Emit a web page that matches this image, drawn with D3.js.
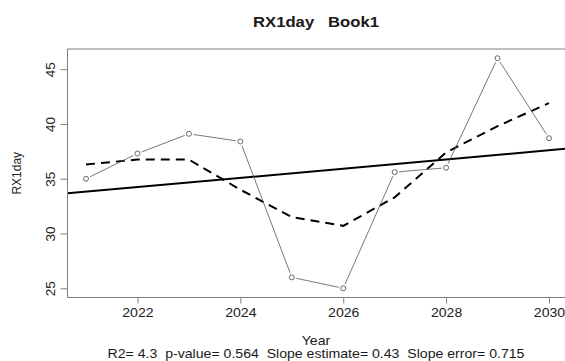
<!DOCTYPE html>
<html>
<head>
<meta charset="utf-8">
<script src="https://cdn.jsdelivr.net/npm/d3@7"></script>
<style>
  html, body { margin: 0; padding: 0; background: #fff; }
  svg { display: block; font-family: "Liberation Sans", Arial, sans-serif; }
  text { white-space: pre; }
</style>
</head>
<body>
<svg id="chart" width="565" height="361"></svg>
<script>
// Annual maximum 1-day precipitation series
const years = [2021, 2022, 2023, 2024, 2025, 2026, 2027, 2028, 2029, 2030];
const rx1day = [35.0, 37.3, 39.1, 38.4, 26.0, 25.0, 35.6, 36.0, 46.0, 38.7];
// Smoothed curve evaluated at each year
const smooth = [36.3, 36.75, 36.75, 34.0, 31.5, 30.7, 33.3, 37.4, 39.8, 41.9];
const xTicks = [2022, 2024, 2026, 2028, 2030];
const yTicks = [25, 30, 35, 40, 45];
const titleText = "RX1day   Book1";
const xLabel = "Year";
const yLabel = "RX1day";
const statsText = "R2= 4.3  p-value= 0.564  Slope estimate= 0.43  Slope error= 0.715";

const svg = d3.select("#chart");
const plot = { left: 67.5, right: 567.5, top: 49, bottom: 297.5 };
const textWiden = 1.12;   // horizontal widening of horizontal labels

// R-style 4% padding around the data range
function padded(ext) {
  const p = (ext[1] - ext[0]) * 0.04;
  return [ext[0] - p, ext[1] + p];
}
const x = d3.scaleLinear().domain(padded(d3.extent(years))).range([plot.left, plot.right]);
const y = d3.scaleLinear().domain(padded(d3.extent(rx1day))).range([plot.bottom, plot.top]);

// Least-squares trend
const mx = d3.mean(years), my = d3.mean(rx1day);
let sxy = 0, sxx = 0;
years.forEach((yr, i) => { sxy += (yr - mx) * (rx1day[i] - my); sxx += (yr - mx) * (yr - mx); });
const slope = sxy / sxx;
const intercept = my - slope * mx;

svg.append("clipPath").attr("id", "clip")
  .append("rect")
  .attr("x", plot.left).attr("y", plot.top)
  .attr("width", plot.right - plot.left).attr("height", plot.bottom - plot.top);

const g = svg.append("g").attr("clip-path", "url(#clip)");

// Trend line across the whole plotting region
const xd = x.domain();
g.append("line")
  .attr("x1", x(xd[0])).attr("y1", y(intercept + slope * xd[0]))
  .attr("x2", x(xd[1])).attr("y2", y(intercept + slope * xd[1]))
  .attr("stroke", "#000").attr("stroke-width", 2);

// Smoothed curve
g.append("path")
  .datum(years.map((yr, i) => [yr, smooth[i]]))
  .attr("fill", "none")
  .attr("stroke", "#000")
  .attr("stroke-width", 2)
  .attr("stroke-dasharray", "9,6")
  .attr("d", d3.line().x(d => x(d[0])).y(d => y(d[1])));

// Observations: points joined by broken segments
const pts = years.map((yr, i) => [x(yr), y(rx1day[i])]);
const gap = 4.5;
for (let i = 0; i < pts.length - 1; i++) {
  const [x1, y1] = pts[i], [x2, y2] = pts[i + 1];
  const len = Math.hypot(x2 - x1, y2 - y1);
  if (len <= 2 * gap) continue;
  const ux = (x2 - x1) / len, uy = (y2 - y1) / len;
  g.append("line")
    .attr("x1", x1 + ux * gap).attr("y1", y1 + uy * gap)
    .attr("x2", x2 - ux * gap).attr("y2", y2 - uy * gap)
    .attr("stroke", "#555").attr("stroke-width", 0.8);
}
g.selectAll("circle.obs")
  .data(pts)
  .join("circle")
  .attr("class", "obs")
  .attr("cx", d => d[0]).attr("cy", d => d[1])
  .attr("r", 2.5)
  .attr("fill", "none")
  .attr("stroke", "#444")
  .attr("stroke-width", 0.8);

// Frame (left, top, bottom)
const frameColor = "#808080";
svg.append("path")
  .attr("d", `M${plot.right},${plot.top}H${plot.left}V${plot.bottom}H${plot.right}`)
  .attr("fill", "none").attr("stroke", frameColor).attr("stroke-width", 1);

// Axes
const xAxis = d3.axisBottom(x).tickValues(xTicks).tickFormat(d3.format("d")).tickSize(6).tickPadding(0);
const xg = svg.append("g").attr("transform", `translate(0,${plot.bottom})`).call(xAxis);
xg.select(".domain").remove();
xg.selectAll(".tick line").attr("stroke", frameColor);
xg.selectAll(".tick text")
  .attr("font-size", 12.6).attr("fill", "#222")
  .attr("font-family", "Liberation Sans, Arial, sans-serif")
  .attr("y", null).attr("dy", null)
  .attr("transform", `translate(0,${316.7 - plot.bottom}) scale(${textWiden},1)`);

const yAxis = d3.axisLeft(y).tickValues(yTicks).tickSize(7).tickPadding(0);
const yg = svg.append("g").attr("transform", `translate(${plot.left},0)`).call(yAxis);
yg.select(".domain").remove();
yg.selectAll(".tick line").attr("stroke", frameColor);
yg.selectAll(".tick text")
  .attr("font-size", 13.5).attr("fill", "#222")
  .attr("font-family", "Liberation Sans, Arial, sans-serif")
  .attr("x", null).attr("dy", null)
  .attr("text-anchor", "middle")
  .attr("transform", "translate(-17,0) rotate(-90)")
  .attr("dy", "0.36em");

const cx = 316;

function hText(txt, yy, size, weight) {
  return svg.append("text")
    .attr("transform", `translate(${cx},${yy}) scale(${textWiden},1)`)
    .attr("text-anchor", "middle")
    .attr("font-size", size)
    .attr("font-weight", weight || "normal")
    .attr("fill", "#1a1a1a")
    .text(txt);
}

hText(titleText, 26.7, 14.9, "bold");
hText(xLabel, 345.2, 12.6);
hText(statsText, 358.4, 12.6);

svg.append("text")
  .attr("transform", `translate(17,${(plot.top + plot.bottom) / 2}) rotate(-90)`)
  .attr("text-anchor", "middle").attr("dy", "0.36em")
  .attr("font-size", 12).attr("fill", "#222")
  .text(yLabel);
</script>
</body>
</html>
